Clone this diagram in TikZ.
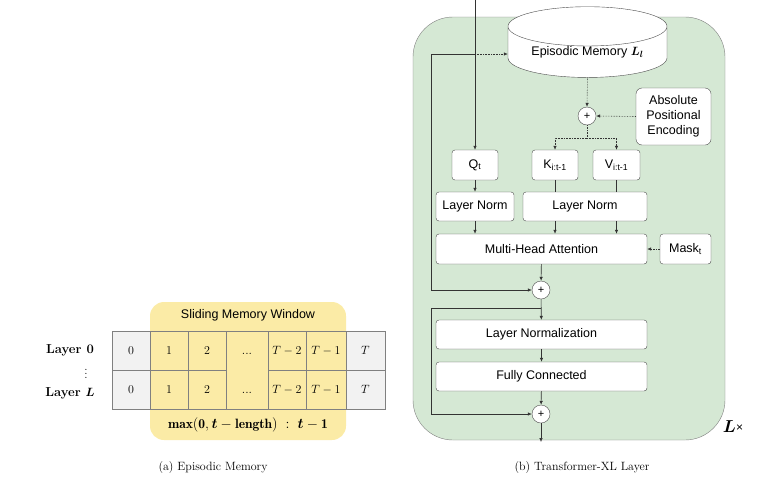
\documentclass[tikz,border=0pt]{standalone}
\usepackage{amsmath,amssymb,bm}
\usepackage{fontspec}
\setsansfont{Liberation Sans}
\usetikzlibrary{shapes.geometric,arrows.meta}
\definecolor{gfill}{HTML}{D5E8D4}
\definecolor{yfill}{HTML}{FBEBA6}
\definecolor{cfill}{HTML}{F2F2F2}
\begin{document}
\begin{tikzpicture}[x=1pt,y=-1pt,
  box/.style={draw=black!70,fill=white,rounded corners=3pt,font=\sffamily\fontsize{12.5}{15}\selectfont,inner sep=0pt},
  cell/.style={draw=black!50,font=\fontsize{12.5}{15}\selectfont,inner sep=0pt,minimum height=39pt},
  plus/.style={draw=black!70,fill=white,circle,minimum size=18pt,inner sep=0pt,font=\sffamily\fontsize{11}{12}\selectfont},
  arr/.style={-{Latex[length=4pt,width=3.5pt]},black!80,line width=0.6pt},
  darr/.style={arr,densely dotted}]
\useasboundingbox (0,0) rectangle (768,496);
% ---------- (a)
\node[fill=yfill,rounded corners=14pt,minimum width=196pt,minimum height=138pt,inner sep=0pt] (win) at (248,371) {};
\node[font=\sffamily\fontsize{12.5}{15}\selectfont] (wt) at (248,315) {Sliding Memory Window};
\foreach \r/\y in {a/350.5,b/389.5}{
  \node[cell,fill=cfill,minimum width=38pt] (\r0) at (131,\y) {$0$};
  \node[cell,minimum width=38pt] (\r1) at (169,\y) {$1$};
  \node[cell,minimum width=38pt] (\r2) at (207,\y) {$2$};
  \node[inner sep=0pt,font=\fontsize{12.5}{15}\selectfont] (\r d) at (247,\y+3) {...};
  \node[cell,minimum width=38pt] (\r3) at (287,\y) {$T-2$};
  \node[cell,minimum width=40pt] (\r4) at (326,\y) {$T-1$};
  \node[cell,fill=cfill,minimum width=39pt] (\r5) at (365.5,\y) {$T$};
}
\draw[black!50] (a2.north east) -- (a3.north west) (b2.south east) -- (b3.south west);
\node[font=\bfseries\fontsize{13}{15}\selectfont] (l0) at (70,350) {Layer 0};
\node[font=\fontsize{12}{14}\selectfont] (ld) at (86,371) {$\vdots$};
\node[font=\bfseries\fontsize{13}{15}\selectfont] (lL) at (70,393) {Layer $\boldsymbol{L}$};
\node[font=\fontsize{13.5}{15}\selectfont] (mx) at (248,425) {$\mathbf{max}(\mathbf{0},\boldsymbol{t}-\mathbf{length})\;:\;\boldsymbol{t}-\mathbf{1}$};
\node[font=\fontsize{12}{14}\selectfont] (ca) at (213,467) {(a) Episodic Memory};
% ---------- (b)
\node[fill=gfill,draw=black!50,rounded corners=40pt,minimum width=312pt,minimum height=423pt,inner sep=0pt] (panel) at (569,228.5) {};
\node[cylinder,shape border rotate=90,aspect=0.35,draw=black!70,fill=white,minimum width=159pt,minimum height=49pt,inner sep=0pt,font=\sffamily\fontsize{12.5}{15}\selectfont] (mem) at (587.5,52) {\raisebox{-6pt}{Episodic Memory $\boldsymbol{L_l}$}};
\node[plus] (p1) at (587,116) {+};
\node[box,minimum width=75pt,minimum height=57pt,align=center,rounded corners=6pt] (ape) at (673.5,116.5) {Absolute\\Positional\\Encoding};
\node[box,minimum width=46pt,minimum height=30pt] (q) at (475,165) {Q$_\text{t}$};
\node[box,minimum width=46pt,minimum height=30pt] (k) at (555,165) {K$_\text{i:t-1}$};
\node[box,minimum width=47pt,minimum height=30pt] (v) at (616.5,165) {V$_\text{i:t-1}$};
\node[box,minimum width=78pt,minimum height=29pt] (ln1) at (475,206.5) {Layer Norm};
\node[box,minimum width=124pt,minimum height=29pt] (ln2) at (585,206.5) {Layer Norm};
\node[box,minimum width=211pt,minimum height=30pt] (mha) at (541.5,249) {Multi-Head Attention};
\node[box,minimum width=51pt,minimum height=30pt] (mask) at (685.5,249) {Mask$_\text{t}$};
\node[plus] (p2) at (541,290) {+};
\node[box,minimum width=211pt,minimum height=29pt] (lnz) at (541.5,334.5) {Layer Normalization};
\node[box,minimum width=211pt,minimum height=29pt] (fc) at (541.5,376.5) {Fully Connected};
\node[plus] (p3) at (541,414) {+};
\coordinate (in) at (475,0);
\coordinate (out) at (541,442);
\coordinate (c1) at (431,54);
\coordinate (c2) at (431,290);
\coordinate (c3) at (431,308);
\coordinate (c4) at (431,414);
\coordinate (c5) at (541,308);
\coordinate (br) at (587,138);
\node[font=\fontsize{17}{19}\selectfont] (lx) at (733,427) {$\boldsymbol{L}$\sffamily\fontsize{12}{14}\selectfont\raisebox{1pt}{×}};
\node[font=\fontsize{12}{14}\selectfont] (cb) at (582,467) {(b) Transformer-XL Layer};
% connectors
\draw[arr] (in) -- (q.north);
\draw[black!80,line width=0.6pt] (c2) -- (c1) -- (475,54);
\draw[darr] (475,54) -- (mem.west |- 0,54);
\draw[arr] (c2) -- (p2.west);
\draw[darr] (mem.bottom) -- (p1.north);
\draw[darr] (ape.west) -- (p1.east);
\draw[black!80,densely dotted,line width=0.6pt] (p1.south) -- (br);
\draw[darr] (br) -| (k.north);
\draw[darr] (br) -| (v.north);
\draw[arr] (q) -- (ln1);
\draw[black!80,line width=0.6pt] (k.south) -- (k.south |- ln2.north) (v.south) -- (v.south |- ln2.north);
\draw[arr] (ln1.south) -- (ln1.south |- mha.north);
\draw[arr] (ln2.south -| k.south) -- (k.south |- mha.north);
\draw[arr] (ln2.south -| v.south) -- (v.south |- mha.north);
\draw[darr] (mask) -- (mha);
\draw[arr] (mha) -- (p2);
\draw[arr] (p2) -- (lnz);
\draw[black!80,line width=0.6pt] (c5) -- (c3) -- (c4);
\draw[arr] (c4) -- (p3.west);
\draw[arr] (lnz) -- (fc);
\draw[arr] (fc) -- (p3);
\draw[arr] (p3) -- (out);
\end{tikzpicture}
\end{document}
